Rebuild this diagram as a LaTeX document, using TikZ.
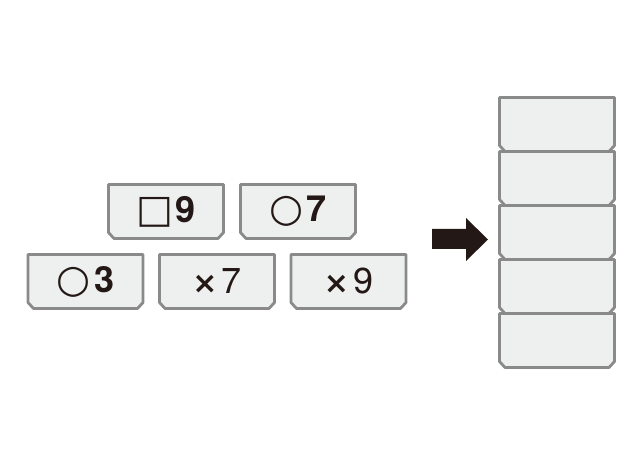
\documentclass[tikz,border=0pt]{standalone}
\usepackage{fontspec}
\setmainfont{TeX Gyre Heros}
\newfontfamily\symfont{DejaVu Sans}
\definecolor{tilegray}{HTML}{8A8A8A}
\definecolor{tilefill}{HTML}{EEEFEF}
\definecolor{inkdark}{HTML}{231815}
\tikzset{
  tileline/.style={draw=tilegray,fill=tilefill,line width=2.8pt,line join=round},
  tiletext/.style={text=inkdark,font=\fontsize{36}{36}\selectfont,inner sep=0pt},
  pics/tile/.style={code={
    \draw[tileline] (-57.5,-27) -- (57.5,-27) -- (57.5,21) -- (52,27)
      -- (-52,27) -- (-57.5,21) -- cycle;
    \node[tiletext] (-lbl) {#1};
  }}
}
\newcommand{\sq}{{\symfont\fontsize{39}{39}\selectfont\char"25A1}\hspace{3pt}}
\newcommand{\ci}{{\symfont\fontsize{39}{39}\selectfont\char"25CB}\hspace{3pt}}
\newcommand{\ti}{{\symfont\bfseries\fontsize{30}{30}\selectfont\char"D7}\hspace{4pt}}
\begin{document}
\begin{tikzpicture}[x=1pt,y=-1pt]
\useasboundingbox (0,0) rectangle (640,449);
% loose tiles
\pic (sqnine) at (166,211.5) {tile={\sq\textbf{9}}};
\pic (cisev) at (298,211.5) {tile={\ci\textbf{7}}};
\pic (cithree) at (85.5,281.5) {tile={\ci\textbf{3}}};
\pic (xsev) at (217,281.5) {tile={\ti 7}};
\pic (xnine) at (348.5,281.5) {tile={\ti 9}};
% arrow
\fill[inkdark] (432,229) -- (466,229) -- (466,218) -- (488,239.5)
  -- (466,261) -- (466,249) -- (432,249) -- cycle;
% stack
\foreach \k/\y in {a/124.5,b/178.5,c/232.5,d/286.5,e/340.5}
  \pic (stack\k) at (557,\y) {tile={}};
\end{tikzpicture}
\end{document}
